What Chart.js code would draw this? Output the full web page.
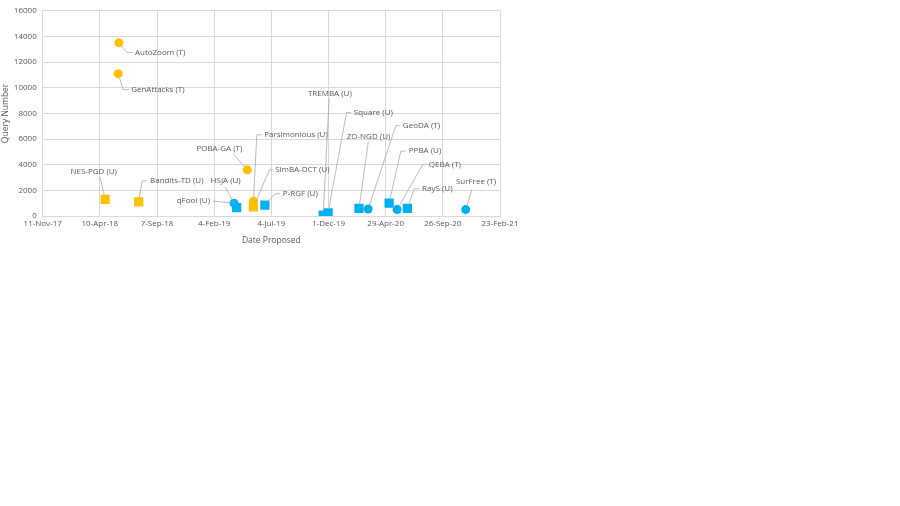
<!DOCTYPE html>
<html>
<head>
<meta charset="utf-8">
<script src="https://cdn.jsdelivr.net/npm/chart.js@4"></script>
<style>
  html, body { margin: 0; padding: 0; background: #fff; }
  #wrap { width: 900px; height: 506px; }
</style>
</head>
<body>
<div id="wrap"><canvas id="queryChart"></canvas></div>
<script>
// attacks, date proposed and query number
const attacks = [
  "AutoZoom (T)", "GenAttacks (T)", "NES-PGD (U)", "Bandits-TD (U)", "POBA-GA (T)",
  "qFool (U)", "HSJA (U)", "Parsimonious (U)", "SimBA-DCT (U)", "P-RGF (U)",
  "TREMBA (U)", "Square (U)", "ZO-NGD (U)", "GeoDA (T)", "PPBA (U)",
  "QEBA (T)", "RayS (U)", "SurFree (T)"
];
const proposed = [
  "2018-05-30", "2018-05-28", "2018-04-24", "2018-07-21", "2019-05-02",
  "2019-03-28", "2019-04-04", "2019-05-18", "2019-05-18", "2019-06-17",
  "2019-11-17", "2019-11-30", "2020-02-19", "2020-03-14", "2020-05-08",
  "2020-05-29", "2020-06-25", "2020-11-25"
];
const queries = [
  13500, 11100, 1300, 1100, 3600,
  1000, 650, 1150, 700, 850,
  80, 250, 600, 550, 1000,
  500, 600, 500
];
// marker group of each attack
const group = [
  "orangeDot", "orangeDot", "orangeBox", "orangeBox", "orangeDot",
  "blueDot", "blueBox", "orangeDot", "orangeBox", "blueBox",
  "blueBox", "blueBox", "blueBox", "blueDot", "blueBox",
  "blueDot", "blueBox", "blueDot"
];

// x axis ticks every 150 days from 11-Nov-17
const axisStart = Date.UTC(2017, 10, 11);
const dayMs = 86400000;
const months = ["Jan","Feb","Mar","Apr","May","Jun","Jul","Aug","Sep","Oct","Nov","Dec"];

function toDays(s) {
  const p = s.split("-").map(Number);
  return (Date.UTC(p[0], p[1] - 1, p[2]) - axisStart) / dayMs;
}
function fmtDate(days) {
  const d = new Date(axisStart + days * dayMs);
  return d.getUTCDate() + "-" + months[d.getUTCMonth()] + "-" + String(d.getUTCFullYear()).slice(2);
}

const groupStyle = {
  orangeDot: { color: "#FFC000", shape: "circle", r: 4.5 },
  orangeBox: { color: "#FFC000", shape: "rect", r: 6.5 },
  blueDot:   { color: "#00B0F0", shape: "circle", r: 4.5 },
  blueBox:   { color: "#00B0F0", shape: "rect", r: 6.5 }
};

const datasets = Object.keys(groupStyle).map(g => {
  const st = groupStyle[g];
  const pts = [];
  attacks.forEach((name, i) => {
    if (group[i] === g) pts.push({ x: toDays(proposed[i]), y: queries[i], name: name });
  });
  return {
    label: g,
    data: pts,
    pointStyle: st.shape,
    pointRadius: st.r,
    pointHoverRadius: st.r,
    backgroundColor: st.color,
    borderColor: st.color,
    borderWidth: 0
  };
});

// callout placement: text anchor offset, text align, leader path (offsets from the point)
const callouts = {
  "AutoZoom (T)":     { t: [16, 9.5], a: "left",   path: [[8, 9.5], [14, 9.5]] },
  "GenAttacks (T)":   { t: [13, 16], a: "left",    path: [[5, 16], [11, 16]] },
  "NES-PGD (U)":      { t: [-11.5, -28], a: "center", path: [[-5, -22]] },
  "Bandits-TD (U)":   { t: [11.3, -21], a: "left",  path: [[3.3, -21], [8.3, -21]] },
  "POBA-GA (T)":      { t: [-28, -21.3], a: "center", path: [[-14, -16]] },
  "qFool (U)":        { t: [-24, -2], a: "right",  path: [[-21, -2]] },
  "HSJA (U)":         { t: [-11, -27], a: "center", path: [[-11.7, -20.7]] },
  "Parsimonious (U)": { t: [10.7, -66.5], a: "left", path: [[3.4, -66.5], [8.7, -66.5]] },
  "SimBA-DCT (U)":    { t: [21.7, -37.2], a: "left", path: [[16, -37.2], [19.4, -37.2]] },
  "P-RGF (U)":        { t: [18, -11.3], a: "left",  path: [[10, -11.3], [15, -11.3]] },
  "TREMBA (U)":       { t: [6.7, -121.7], a: "center", path: [[6, -117]] },
  "Square (U)":       { t: [25.7, -100.4], a: "left", path: [[18.4, -100.4], [22.7, -100.4]] },
  "ZO-NGD (U)":       { t: [9.5, -71.6], a: "center", path: [[9.3, -66.6]] },
  "GeoDA (T)":        { t: [34.7, -83.3], a: "left", path: [[27.7, -83.3], [31.7, -83.3]] },
  "PPBA (U)":         { t: [19.7, -52], a: "left",  path: [[11.7, -52], [16.7, -52]] },
  "QEBA (T)":         { t: [31.7, -45.3], a: "left", path: [[25.7, -45.3], [29.7, -45.3]] },
  "RayS (U)":         { t: [14.7, -19.6], a: "left", path: [[6.7, -19.6], [11.7, -19.6]] },
  "SurFree (T)":      { t: [10.3, -27.6], a: "center", path: [[6.3, -20.3]] }
};

const calloutPlugin = {
  id: "callouts",
  afterDatasetsDraw(chart) {
    const ctx = chart.ctx;
    ctx.save();
    ctx.font = "8px 'Open Sans'";
    ctx.fillStyle = "#595959";
    ctx.textBaseline = "middle";
    chart.data.datasets.forEach((ds, di) => {
      const meta = chart.getDatasetMeta(di);
      ds.data.forEach((p, i) => {
        const c = callouts[p.name];
        if (!c) return;
        const el = meta.data[i];
        const x = el.x, y = el.y;
        // leader line, starting at the marker edge
        const first = c.path[0];
        const len = Math.hypot(first[0], first[1]) || 1;
        const r = 4;
        ctx.strokeStyle = "#a6a6a6";
        ctx.lineWidth = 0.75;
        ctx.beginPath();
        ctx.moveTo(x + first[0] / len * r, y + first[1] / len * r);
        c.path.forEach(q => ctx.lineTo(x + q[0], y + q[1]));
        ctx.stroke();
        ctx.textAlign = c.a;
        ctx.fillText(p.name, x + c.t[0], y + c.t[1]);
      });
    });
    ctx.restore();
  }
};

const tickFont = { family: "'Open Sans'", size: 8 };

new Chart(document.getElementById("queryChart"), {
  type: "scatter",
  data: { datasets: datasets },
  plugins: [calloutPlugin],
  options: {
    responsive: true,
    maintainAspectRatio: false,
    animation: false,
    layout: { padding: { left: 0, top: 10, right: 400, bottom: 260 } },
    plugins: {
      legend: { display: false },
      tooltip: { enabled: false }
    },
    scales: {
      x: {
        type: "linear",
        min: 0,
        max: 1200,
        ticks: {
          stepSize: 150,
          color: "#595959",
          font: tickFont,
          maxRotation: 0,
          padding: 3,
          callback: v => fmtDate(v)
        },
        grid: { color: "#d9d9d9", lineWidth: 1, drawTicks: false },
        border: { color: "#d9d9d9" },
        title: {
          display: true,
          text: "Date Proposed",
          color: "#595959",
          font: { family: "'Open Sans'", size: 8.5 },
          padding: { top: 2, bottom: 0 }
        },
        afterFit: s => { s.height = 30; }
      },
      y: {
        min: 0,
        max: 16000,
        ticks: {
          stepSize: 2000,
          color: "#595959",
          font: tickFont,
          padding: 6,
          callback: v => String(v)
        },
        grid: { color: "#d9d9d9", lineWidth: 1, drawTicks: false },
        border: { color: "#d9d9d9" },
        title: {
          display: true,
          text: "Query Number",
          color: "#595959",
          font: { family: "'Open Sans'", size: 8.5 },
          padding: { top: 0, bottom: 2 }
        },
        afterFit: s => { s.width = 42.7; }
      }
    }
  }
});
</script>
</body>
</html>
